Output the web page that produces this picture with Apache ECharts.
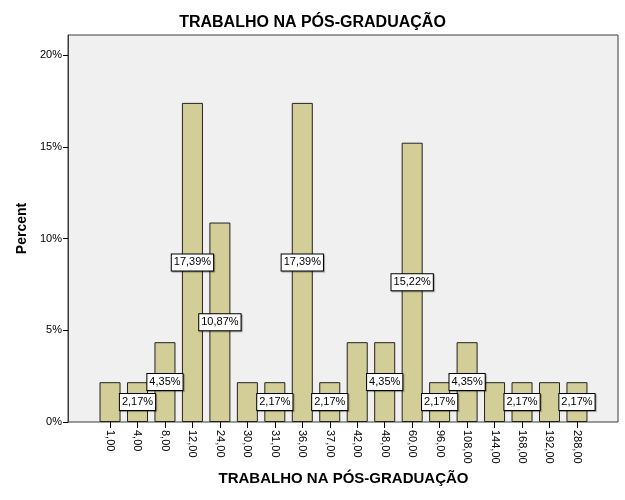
<!DOCTYPE html>
<html>
<head>
<meta charset="utf-8">
<script src="https://cdn.jsdelivr.net/npm/echarts@6/dist/echarts.min.js"></script>
<style>html,body{margin:0;padding:0;background:#fff}#c{width:625px;height:500px}</style>
</head>
<body>
<div id="c"></div>
<script>
var categories = ['1,00','4,00','8,00','12,00','24,00','30,00','31,00','36,00','37,00','42,00','48,00','60,00','96,00','108,00','144,00','168,00','192,00','288,00'];
var percents = [2.17, 2.17, 4.35, 17.39, 10.87, 2.17, 2.17, 17.39, 2.17, 4.35, 4.35, 15.22, 2.17, 4.35, 2.17, 2.17, 2.17, 2.17];
var labelledCategories = ['4,00','8,00','12,00','24,00','31,00','36,00','37,00','48,00','60,00','96,00','108,00','168,00','288,00'];
var yTicks = [0, 5, 10, 15, 20];
var titleText = 'TRABALHO NA PÓS-GRADUAÇÃO';

var FONT = '"Liberation Sans", Arial, sans-serif';
var YMAX = 21.09;
var chart = echarts.init(document.getElementById('c'), null, {renderer: 'canvas'});

var barData = percents.map(function (v, i) {
  var show = labelledCategories.indexOf(categories[i]) >= 0;
  return {value: v, label: {show: show}};
});

chart.setOption({
  animation: false,
  backgroundColor: '#ffffff',
  title: {
    text: titleText, left: 'center', top: 10,
    textStyle: {fontFamily: FONT, fontSize: 16, fontWeight: 'bold', color: '#000'}
  },
  grid: [
    {left: 68, right: 7, top: 35, bottom: 78, show: true, backgroundColor: '#f0f0f0', borderColor: '#3c3c3c', borderWidth: 1, containLabel: false},
    {left: 96.3, right: 34.3, top: 35, bottom: 78, containLabel: false}
  ],
  xAxis: [
    {gridIndex: 0, type: 'value', min: 0, max: 1, show: false},
    {
      gridIndex: 1, type: 'category', data: categories,
      name: titleText, nameLocation: 'middle', nameGap: 49,
      nameTextStyle: {fontFamily: FONT, fontSize: 15, fontWeight: 'bold', color: '#000'},
      axisLine: {show: false},
      axisTick: {show: true, alignWithLabel: true, length: 6, lineStyle: {color: '#000'}},
      axisLabel: {rotate: -90, interval: 0, margin: 8, fontFamily: FONT, fontSize: 11, color: '#000'},
      splitLine: {show: false}
    }
  ],
  yAxis: [
    {
      gridIndex: 0, type: 'value', min: 0, max: YMAX,
      name: 'Percent', nameLocation: 'middle', nameGap: 36, nameRotate: 90,
      nameTextStyle: {fontFamily: FONT, fontSize: 14, fontWeight: 'bold', color: '#000'},
      axisLine: {show: true, lineStyle: {color: '#3c3c3c'}},
      axisTick: {show: true, length: 5, customValues: yTicks, lineStyle: {color: '#000'}},
      axisLabel: {customValues: yTicks, margin: 6, fontFamily: FONT, fontSize: 11, color: '#000',
        formatter: function (v) { return v + '%'; }},
      splitLine: {show: false}
    },
    {gridIndex: 1, type: 'value', min: 0, max: YMAX, show: false, splitLine: {show: false}}
  ],
  series: [{
    type: 'bar', xAxisIndex: 1, yAxisIndex: 1,
    data: barData,
    barCategoryGap: '23.5%',
    itemStyle: {color: '#d3ce97', borderColor: '#222', borderWidth: 1},
    label: {
      position: 'inside',
      formatter: function (p) { return p.value.toFixed(2).replace('.', ',') + '%'; },
      fontFamily: FONT, fontSize: 11, color: '#000',
      backgroundColor: '#fff', borderColor: '#000', borderWidth: 1,
      padding: [3, 2, 2, 2],
      shadowColor: 'rgba(0,0,0,0.35)', shadowOffsetX: 1, shadowOffsetY: 1, shadowBlur: 1
    },
    labelLayout: {hideOverlap: false}
  }]
});
</script>
</body>
</html>
